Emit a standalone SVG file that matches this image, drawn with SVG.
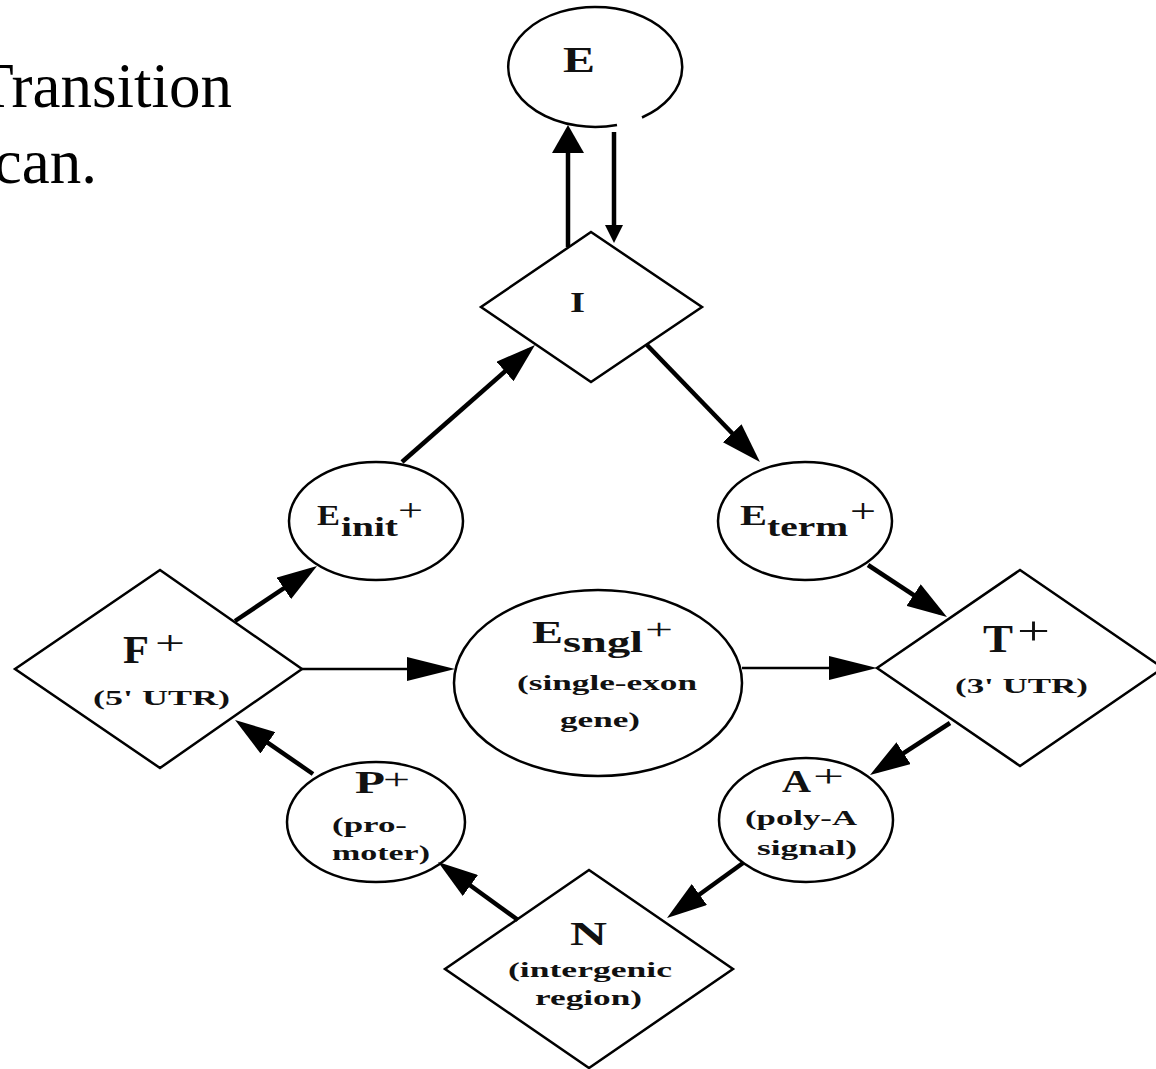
<svg xmlns="http://www.w3.org/2000/svg" width="1156" height="1069" viewBox="0 0 1156 1069">
<defs>
<style>
.shape{fill:none;stroke:#000;stroke-width:2.5}
.thick{fill:none;stroke:#000;stroke-width:4.5}
.thin{fill:none;stroke:#000;stroke-width:2.5}
.lbl{font-family:"Liberation Serif","Times New Roman",serif;font-weight:bold;fill:#111}
.plus{font-family:"Liberation Serif","Times New Roman",serif;font-weight:normal;fill:#111}
.title{font-family:"Liberation Serif","Times New Roman",serif;font-size:63px;fill:#000}
</style>
<marker id="ah" markerUnits="userSpaceOnUse" viewBox="0 0 40 26" markerWidth="40" markerHeight="26" refX="32" refY="13" orient="auto"><path d="M0,0 L40,13 L0,26 z" fill="#000"/></marker>
<marker id="ahH" markerUnits="userSpaceOnUse" viewBox="0 0 48 24" markerWidth="48" markerHeight="24" refX="40" refY="12" orient="auto"><path d="M0,0 L48,12 L0,24 z" fill="#000"/></marker>
<marker id="ahUp" markerUnits="userSpaceOnUse" viewBox="0 0 28 32" markerWidth="28" markerHeight="32" refX="20" refY="16" orient="auto"><path d="M0,0 L28,16 L0,32 z" fill="#000"/></marker>
<marker id="ahDn" markerUnits="userSpaceOnUse" viewBox="0 0 18 18" markerWidth="18" markerHeight="18" refX="12" refY="9" orient="auto"><path d="M0,0 L18,9 L0,18 z" fill="#000"/></marker>
</defs>
<rect width="1156" height="1069" fill="#fff"/>

<g id="title-text">
<text class="title" x="232" y="107" text-anchor="end">Transition</text>
<text class="title" x="97" y="183" text-anchor="end">can.</text>
</g>

<g id="connectors">
<line class="thick" x1="568" y1="247" x2="568" y2="133" marker-end="url(#ahUp)"/>
<line class="thick" x1="614" y1="132" x2="614" y2="237" marker-end="url(#ahDn)"/>
<line class="thick" x1="235" y1="621" x2="310.4" y2="570.5" marker-end="url(#ah)"/>
<line class="thick" x1="402" y1="462" x2="529" y2="350.3" marker-end="url(#ah)"/>
<line class="thick" x1="647" y1="345" x2="754.4" y2="456.2" marker-end="url(#ah)"/>
<line class="thick" x1="868" y1="565" x2="940.3" y2="612.6" marker-end="url(#ah)"/>
<line class="thin" x1="302" y1="669" x2="447" y2="669" marker-end="url(#ahH)"/>
<line class="thin" x1="742" y1="668" x2="869" y2="668" marker-end="url(#ahH)"/>
<line class="thick" x1="950" y1="723" x2="876.7" y2="770.6" marker-end="url(#ah)"/>
<line class="thick" x1="743" y1="863" x2="673.5" y2="913.3" marker-end="url(#ah)"/>
<line class="thick" x1="518" y1="920" x2="444.5" y2="866.7" marker-end="url(#ah)"/>
<line class="thick" x1="313" y1="774" x2="241.6" y2="724.6" marker-end="url(#ah)"/>
</g>

<g id="node-E">
<path class="shape" d="M617,125 A87,60 0 1 1 642,117.5"/>
<text class="lbl" x="563" y="72" font-size="36" textLength="32" lengthAdjust="spacingAndGlyphs">E</text>
</g>

<g id="node-I">
<polygon class="shape" points="591,232 702,307 591,382 481,307"/>
<text class="lbl" x="570" y="312" font-size="30" textLength="15" lengthAdjust="spacingAndGlyphs">I</text>
</g>

<g id="node-Einit">
<ellipse class="shape" cx="376" cy="521" rx="87" ry="59"/>
<text class="lbl" x="317" y="525" font-size="30" textLength="23" lengthAdjust="spacingAndGlyphs">E</text>
<text class="lbl" x="341" y="536" font-size="28" textLength="57" lengthAdjust="spacingAndGlyphs">init</text>
<text class="plus" x="398" y="521" font-size="32" textLength="25" lengthAdjust="spacingAndGlyphs">+</text>
</g>

<g id="node-Eterm">
<ellipse class="shape" cx="805" cy="521" rx="87" ry="59"/>
<text class="lbl" x="740" y="525" font-size="30" textLength="27" lengthAdjust="spacingAndGlyphs">E</text>
<text class="lbl" x="767" y="536" font-size="27" textLength="81" lengthAdjust="spacingAndGlyphs">term</text>
<text class="plus" x="850" y="522" font-size="34" textLength="26" lengthAdjust="spacingAndGlyphs">+</text>
</g>

<g id="node-F">
<polygon class="shape" points="160,570 302,669 160,768 15,669"/>
<text class="lbl" x="123" y="663" font-size="39" textLength="26" lengthAdjust="spacingAndGlyphs">F</text>
<text class="plus" x="155" y="654" font-size="34" textLength="30" lengthAdjust="spacingAndGlyphs">+</text>
<text class="lbl" x="93" y="705" font-size="20" textLength="137" lengthAdjust="spacingAndGlyphs">(5' UTR)</text>
</g>

<g id="node-Esngl">
<ellipse class="shape" cx="598" cy="683" rx="144" ry="93"/>
<text class="lbl" x="532" y="643" font-size="32" textLength="31" lengthAdjust="spacingAndGlyphs">E</text>
<text class="lbl" x="563" y="652" font-size="30" textLength="80" lengthAdjust="spacingAndGlyphs">sngl</text>
<text class="plus" x="645" y="639" font-size="30" textLength="28" lengthAdjust="spacingAndGlyphs">+</text>
<text class="lbl" x="517" y="690" font-size="22" textLength="180" lengthAdjust="spacingAndGlyphs">(single-exon</text>
<text class="lbl" x="560" y="727" font-size="22" textLength="80" lengthAdjust="spacingAndGlyphs">gene)</text>
</g>

<g id="node-T">
<polygon class="shape" points="1020,570 1163,668 1020,766 877,668"/>
<text class="lbl" x="983" y="652" font-size="40" textLength="30" lengthAdjust="spacingAndGlyphs">T</text>
<text class="plus" x="1017" y="644" font-size="40" textLength="33" lengthAdjust="spacingAndGlyphs">+</text>
<text class="lbl" x="955" y="693" font-size="22" textLength="133" lengthAdjust="spacingAndGlyphs">(3' UTR)</text>
</g>

<g id="node-P">
<ellipse class="shape" cx="376" cy="822" rx="89" ry="60"/>
<text class="lbl" x="355" y="793" font-size="32" textLength="30" lengthAdjust="spacingAndGlyphs">P</text>
<text class="plus" x="383" y="789" font-size="30" textLength="27" lengthAdjust="spacingAndGlyphs">+</text>
<text class="lbl" x="332" y="832" font-size="21" textLength="75" lengthAdjust="spacingAndGlyphs">(pro-</text>
<text class="lbl" x="332" y="860" font-size="21" textLength="98" lengthAdjust="spacingAndGlyphs">moter)</text>
</g>

<g id="node-A">
<ellipse class="shape" cx="806" cy="820" rx="87" ry="62"/>
<text class="lbl" x="782" y="792" font-size="32" textLength="29" lengthAdjust="spacingAndGlyphs">A</text>
<text class="plus" x="813" y="787" font-size="32" textLength="31" lengthAdjust="spacingAndGlyphs">+</text>
<text class="lbl" x="745" y="825" font-size="21" textLength="112" lengthAdjust="spacingAndGlyphs">(poly-A</text>
<text class="lbl" x="757" y="855" font-size="21" textLength="100" lengthAdjust="spacingAndGlyphs">signal)</text>
</g>

<g id="node-N">
<polygon class="shape" points="589,870 733,969 589,1068 445,969"/>
<text class="lbl" x="570" y="945" font-size="34" textLength="37" lengthAdjust="spacingAndGlyphs">N</text>
<text class="lbl" x="508" y="977" font-size="22" textLength="164" lengthAdjust="spacingAndGlyphs">(intergenic</text>
<text class="lbl" x="535" y="1005" font-size="22" textLength="107" lengthAdjust="spacingAndGlyphs">region)</text>
</g>
</svg>
